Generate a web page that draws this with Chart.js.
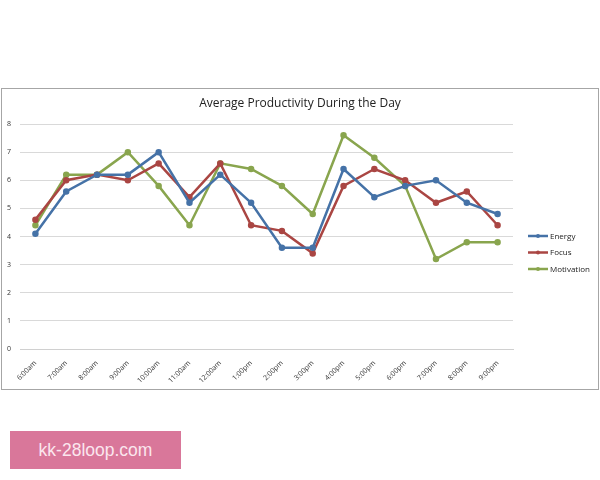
<!DOCTYPE html>
<html>
<head>
<meta charset="utf-8">
<script src="https://cdn.jsdelivr.net/npm/chart.js@4"></script>
<style>
  body { margin: 0; background: #fff; width: 600px; height: 480px; position: relative; overflow: hidden; }
  #box { position: absolute; left: 1px; top: 88px; width: 596px; height: 300px; border: 1px solid #a6a6a6; }
  #box canvas { position: absolute; left: 0; top: 0; }
  #badge { position: absolute; left: 10px; top: 431px; width: 171px; height: 38px; background: #d9779a;
           color: #fbe6ee; font-family: "Liberation Sans", Arial, sans-serif; font-size: 17.5px;
           line-height: 38px; text-align: center; }
</style>
</head>
<body>
<div id="box"><canvas id="lineChart" width="596" height="300"></canvas></div>
<div id="badge">kk-28loop.com</div>
<script>
var horas = ["6:00am", "7:00am", "8:00am", "9:00am", "10:00am", "11:00am", "12:00am", "1:00pm",
             "2:00pm", "3:00pm", "4:00pm", "5:00pm", "6:00pm", "7:00pm", "8:00pm", "9:00pm"];
var energy = [4.1, 5.6, 6.2, 6.2, 7.0, 5.2, 6.2, 5.2, 3.6, 3.6, 6.4, 5.4, 5.8, 6.0, 5.2, 4.8];
var focus = [4.6, 6.0, 6.2, 6.0, 6.6, 5.4, 6.6, 4.4, 4.2, 3.4, 5.8, 6.4, 6.0, 5.2, 5.6, 4.4];
var motivation = [4.4, 6.2, 6.2, 7.0, 5.8, 4.4, 6.6, 6.4, 5.8, 4.8, 7.6, 6.8, 5.8, 3.2, 3.8, 3.8];
var yTicks = [0, 1, 2, 3, 4, 5, 6, 7, 8];
var titulo = 'Average Productivity During the Day';

function serie(label, data, color) {
    return {
        label: label,
        data: data,
        borderColor: color,
        backgroundColor: color,
        borderWidth: 2.5,
        pointRadius: 2,
        pointHoverRadius: 2,
        tension: 0
    };
}

// title centered on the whole box + legend drawn like excel (line with a dot)
var leyenda = {
    id: 'leyenda',
    afterDraw: function (chart) {
        var ctx = chart.ctx;
        var x0 = 526, y0 = 147, paso = 16.5;
        ctx.save();
        ctx.fillStyle = '#222';
        ctx.textAlign = 'center';
        ctx.textBaseline = 'middle';
        ctx.font = '12px "Open Sans", sans-serif';
        ctx.fillText(titulo, chart.width / 2, 15);

        ctx.textAlign = 'left';
        ctx.font = '8px "Open Sans", sans-serif';
        chart.data.datasets.forEach(function (ds, i) {
            var y = y0 + i * paso;
            ctx.strokeStyle = ds.borderColor;
            ctx.fillStyle = ds.borderColor;
            ctx.lineWidth = 2.5;
            ctx.beginPath();
            ctx.moveTo(x0, y);
            ctx.lineTo(x0 + 20, y);
            ctx.stroke();
            ctx.beginPath();
            ctx.arc(x0 + 10, y, 2, 0, Math.PI * 2);
            ctx.fill();
            ctx.fillStyle = '#222';
            ctx.fillText(ds.label, x0 + 22, y + 0.5);
        });
        ctx.restore();
    }
};

var lineChart = new Chart(document.getElementById("lineChart"), {
    type: 'line',
    data: {
        labels: horas,
        datasets: [
            serie('Energy', energy, '#4572a7'),
            serie('Focus', focus, '#aa4643'),
            serie('Motivation', motivation, '#89a54e')
        ]
    },
    options: {
        responsive: false,
        animation: false,
        layout: { padding: { left: 0, right: 85, top: 35, bottom: 0 } },
        plugins: {
            legend: { display: false },
            tooltip: { enabled: false },
            title: { display: false }
        },
        scales: {
            x: {
                offset: true,
                grid: { display: false },
                border: { display: true, color: '#d0d0d0' },
                afterFit: function (s) { s.height = 40; },
                ticks: {
                    minRotation: 45,
                    maxRotation: 45,
                    autoSkip: false,
                    color: '#333',
                    padding: 2,
                    font: { family: '"Open Sans", sans-serif', size: 7 }
                }
            },
            y: {
                min: 0,
                max: 8,
                afterFit: function (s) { s.width = 18; },
                afterBuildTicks: function (s) { s.ticks = yTicks.map(function (v) { return { value: v }; }); },
                grid: { color: '#d9d9d9', drawTicks: false },
                border: { display: false },
                ticks: {
                    color: '#333',
                    padding: 9,
                    font: { family: '"Open Sans", sans-serif', size: 7 }
                }
            }
        }
    },
    plugins: [leyenda]
});
</script>
</body>
</html>
